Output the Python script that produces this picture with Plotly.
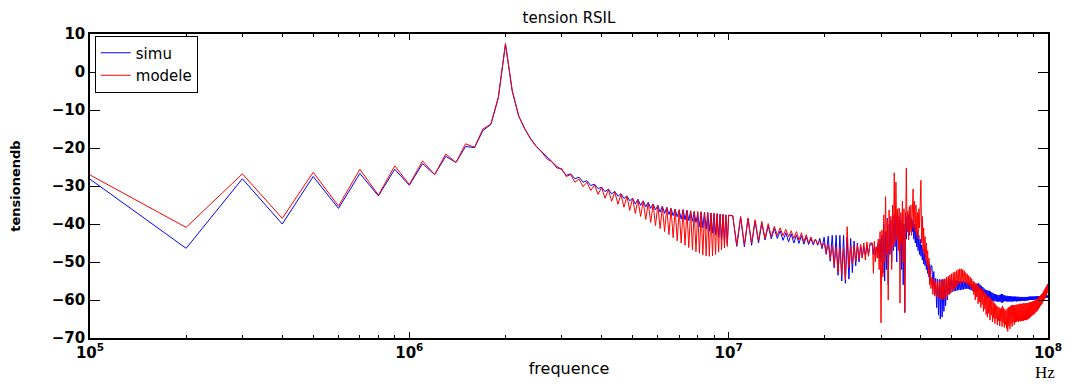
import numpy as np
import plotly.graph_objects as go

# frequency grid (Hz): 100 kHz steps to 10 MHz, 300 kHz steps to 28 MHz,
# 200 kHz steps through the 28-43 MHz resonance zone, 300 kHz steps to 100 MHz
freq_hz = np.concatenate([
    np.arange(1, 101) * 1e5,
    1e7 + np.arange(1, 61) * 3e5,
    2.8e7 + np.arange(1, 76) * 2e5,
    4.3e7 + np.arange(1, 191) * 3e5,
])

# simulated response (dB)
simu_db_0_10 = [
    -28.2, -46.4, -28.1, -40.0, -27.5, -35.9, -26.7, -32.6, -25.6, -29.8,
    -24.1, -27.0, -22.2, -23.8, -19.6, -19.9, -15.4, -13.8, -6.8, 7.3,
    -5.0, -11.6, -15.0, -17.6, -19.6, -21.0, -22.4, -23.6, -24.9, -25.7,
    -27.2, -26.8, -28.1, -27.7, -29.0, -28.6, -29.9, -29.5, -30.7, -30.3,
    -31.5, -30.8, -32.1, -31.4, -32.7, -32.0, -33.3, -32.6, -33.9, -33.2,
    -34.7, -33.5, -35.1, -33.9, -35.5, -34.3, -35.9, -34.7, -36.3, -35.1,
    -36.9, -35.3, -37.2, -35.6, -37.5, -35.9, -37.8, -36.1, -38.1, -36.4,
    -38.7, -36.2, -38.9, -36.4, -39.1, -36.6, -39.3, -36.8, -39.6, -37.2,
    -40.7, -36.8, -41.0, -36.9, -41.4, -37.0, -41.9, -37.1, -42.4, -37.2,
    -42.9, -37.3, -43.5, -37.4, -44.1, -37.5, -44.7, -37.6, -45.2, -37.7,
]
simu_db_10_28 = [
    -37.9, -45.9, -38.2, -46.0, -38.6, -45.6, -39.2, -45.0, -39.8, -44.2,
    -40.5, -43.9, -41.2, -43.8, -41.8, -44.3, -42.3, -44.7, -42.6, -45.0,
    -42.9, -45.1, -43.1, -45.3, -43.4, -45.4, -43.8, -45.5, -44.0, -45.6,
    -43.8, -46.5, -43.5, -48.0, -43.2, -49.8, -43.0, -51.5, -43.0, -53.5,
    -43.0, -55.0, -43.0, -55.6, -43.4, -54.5, -43.8, -52.8, -44.5, -51.0,
    -45.0, -50.0, -45.6, -48.8, -46.0, -48.2, -45.6, -48.0, -45.5, -45.0,
]
simu_db_28_43 = [
    -46.0, -48.0, -45.5, -48.5, -46.0, -47.5, -45.0, -49.0, -44.0, -50.0,
    -43.0, -53.0, -40.0, -55.0, -42.0, -52.0, -38.5, -56.0, -40.0, -48.0,
    -39.0, -50.0, -38.0, -47.0, -37.5, -46.0, -38.0, -50.0, -37.5, -44.0,
    -38.0, -48.0, -39.0, -52.0, -38.0, -56.0, -40.0, -63.3, -37.0, -44.0,
    -38.0, -42.0, -37.5, -43.0, -38.0, -41.0, -38.5, -42.0, -39.0, -44.0,
    -40.0, -45.0, -41.0, -46.0, -42.0, -47.0, -43.0, -48.0, -44.0, -48.5,
    -45.5, -49.5, -46.5, -50.5, -47.5, -51.0, -48.5, -52.0, -49.5, -53.0,
    -50.0, -54.0, -50.5, -55.0, -51.0,
]
simu_db_43_100 = [
    -51.0, -56.5, -52.5, -58.5, -54.3, -62.0, -54.5, -64.0, -54.6, -65.0,
    -54.6, -64.5, -54.6, -63.0, -54.5, -61.5, -54.5, -60.0, -54.5, -58.5,
    -54.6, -58.0, -54.7, -57.8, -54.8, -57.7, -54.9, -57.6, -54.9, -57.5,
    -55.0, -57.4, -55.0, -57.4, -55.1, -57.3, -55.1, -57.2, -55.2, -57.1,
    -55.3, -57.0, -55.4, -57.1, -55.5, -57.2, -55.6, -57.4, -55.7, -57.6,
    -55.8, -57.8, -55.9, -57.9, -55.8, -57.7, -55.7, -57.5, -55.6, -57.4,
    -56.0, -57.8, -56.3, -58.3, -56.6, -58.8, -57.0, -59.4, -57.3, -60.0,
    -57.4, -59.6, -57.5, -59.5, -57.6, -59.8, -57.8, -60.0, -58.0, -60.2,
    -58.2, -60.3, -58.4, -60.3, -58.5, -60.4, -58.6, -60.4, -58.7, -60.4,
    -58.7, -60.4, -58.6, -60.5, -58.4, -60.8, -58.5, -60.5, -58.7, -60.3,
    -58.8, -60.3, -58.9, -60.4, -58.9, -60.4, -59.0, -60.4, -59.0, -60.4,
    -59.0, -60.4, -59.1, -60.4, -59.1, -60.4, -59.1, -60.3, -59.1, -60.3,
    -59.1, -60.4, -59.2, -60.3, -59.1, -60.3, -59.2, -60.3, -59.2, -60.2,
    -59.2, -60.2, -59.2, -60.2, -59.2, -60.2, -59.2, -60.2, -59.2, -60.2,
    -59.2, -60.1, -59.2, -60.1, -59.2, -60.1, -59.1, -60.0, -59.1, -60.0,
    -59.1, -60.0, -59.1, -60.0, -59.1, -60.0, -59.1, -59.9, -59.1, -59.9,
    -59.1, -59.9, -59.0, -59.9, -59.0, -59.8, -59.0, -59.8, -59.0, -59.8,
    -59.0, -59.8, -58.9, -59.7, -58.9, -59.7, -58.9, -59.6, -58.9, -59.6,
    -58.8, -59.5, -58.8, -59.5, -58.8, -59.4, -58.8, -59.4, -58.8, -59.3,
]

# model response (dB)
modele_db_0_10 = [
    -27.1, -40.9, -26.8, -38.5, -26.4, -35.3, -25.6, -32.4, -24.7, -29.6,
    -23.4, -27.0, -21.6, -23.8, -18.9, -19.8, -15.0, -13.7, -6.6, 7.5,
    -4.9, -11.5, -15.0, -17.7, -19.7, -21.1, -22.9, -23.7, -25.3, -25.4,
    -27.5, -27.0, -29.0, -28.2, -30.2, -29.0, -31.2, -29.7, -32.2, -30.4,
    -33.2, -31.0, -34.0, -31.6, -34.8, -32.2, -35.6, -32.7, -36.4, -33.2,
    -37.2, -33.6, -38.0, -34.0, -38.8, -34.4, -39.6, -34.8, -40.4, -35.1,
    -41.2, -35.4, -42.0, -35.7, -42.8, -35.9, -43.6, -36.1, -44.4, -36.2,
    -45.0, -36.3, -45.6, -36.4, -46.2, -36.5, -46.8, -36.6, -47.3, -36.7,
    -47.7, -36.8, -48.1, -36.9, -48.4, -37.0, -48.5, -37.1, -48.4, -37.2,
    -48.0, -37.3, -47.4, -37.4, -46.8, -37.5, -46.3, -37.6, -45.9, -37.7,
]
modele_db_10_28 = [
    -37.8, -45.6, -38.0, -45.4, -38.4, -45.0, -38.9, -44.4, -39.3, -43.8,
    -39.9, -43.4, -40.6, -43.0, -41.0, -43.1, -41.4, -43.4, -41.8, -43.8,
    -42.0, -44.2, -42.3, -44.7, -42.8, -45.0, -43.4, -45.1, -44.0, -45.3,
    -44.4, -46.0, -45.0, -47.6, -45.4, -49.3, -45.8, -51.0, -46.1, -52.5,
    -46.4, -53.4, -46.4, -54.7, -40.7, -51.5, -45.9, -50.5, -45.6, -49.8,
    -45.5, -49.3, -45.4, -49.0, -45.0, -49.5, -44.7, -48.5, -45.0, -45.0,
]
modele_db_28_43 = [
    -45.0, -53.0, -44.5, -50.0, -46.0, -49.0, -44.0, -52.0, -42.0, -66.0,
    -41.6, -53.9, -37.6, -50.0, -32.8, -48.0, -39.0, -60.0, -36.3, -47.0,
    -38.0, -52.0, -35.0, -46.0, -26.5, -45.0, -29.0, -44.0, -36.0, -47.0,
    -35.8, -60.8, -37.0, -45.0, -34.0, -50.0, -36.0, -63.3, -30.0, -25.3,
    -42.0, -36.5, -44.2, -35.4, -42.0, -35.0, -43.0, -31.0, -30.8, -41.0,
    -34.0, -42.0, -35.0, -43.0, -37.0, -44.0, -36.0, -41.0, -33.0, -28.5,
    -45.0, -38.0, -47.0, -41.0, -48.0, -43.3, -49.5, -45.0, -51.0, -47.0,
    -53.0, -49.0, -56.0, -52.0, -57.0,
]
modele_db_43_100 = [
    -54.0, -58.5, -54.5, -59.0, -55.0, -59.2, -55.2, -59.5, -55.0, -59.6,
    -54.8, -60.0, -54.6, -59.8, -54.4, -59.6, -54.0, -59.2, -53.7, -58.6,
    -53.4, -58.2, -53.1, -57.7, -52.8, -57.2, -52.6, -56.7, -52.3, -56.2,
    -52.0, -55.8, -51.8, -55.6, -51.8, -55.4, -52.0, -55.4, -52.3, -55.4,
    -52.8, -55.8, -53.2, -56.0, -53.6, -56.3, -54.0, -56.8, -54.4, -57.5,
    -55.0, -58.6, -55.3, -60.0, -55.6, -59.2, -56.0, -61.0, -56.3, -60.5,
    -56.8, -62.0, -57.0, -61.2, -57.4, -63.0, -57.8, -62.4, -58.2, -63.8,
    -58.6, -64.5, -59.0, -63.5, -59.3, -65.3, -59.6, -64.0, -60.0, -65.8,
    -60.3, -64.8, -60.8, -66.2, -61.2, -65.0, -61.5, -66.6, -61.8, -65.5,
    -62.0, -66.8, -62.3, -65.6, -62.0, -67.0, -61.6, -66.0, -62.2, -67.2,
    -62.5, -66.5, -62.8, -67.5, -62.3, -68.3, -62.0, -66.8, -61.8, -67.6,
    -61.6, -66.2, -61.4, -67.0, -61.3, -65.8, -61.4, -66.5, -61.3, -65.9,
    -61.3, -65.7, -61.2, -65.6, -61.2, -65.8, -61.1, -65.5, -61.0, -65.6,
    -61.0, -65.5, -61.0, -65.4, -60.9, -65.5, -60.9, -65.3, -60.9, -65.3,
    -60.9, -65.3, -60.8, -65.1, -60.8, -65.0, -60.7, -64.8, -60.6, -64.5,
    -60.5, -64.3, -60.5, -64.1, -60.4, -63.9, -60.3, -63.7, -60.2, -63.5,
    -60.0, -63.2, -59.9, -63.0, -59.7, -62.8, -59.5, -62.4, -59.2, -62.0,
    -59.0, -61.6, -58.8, -61.3, -58.5, -61.0, -58.2, -60.6, -57.8, -60.2,
    -57.4, -59.8, -57.0, -59.4, -56.6, -58.8, -56.2, -58.2, -55.8, -57.0,
]

x_tick_vals = [1e5, 1e6, 1e7, 1e8]
x_tick_text = ['10<sup>5</sup>', '10<sup>6</sup>', '10<sup>7</sup>', '10<sup>8</sup>']
y_tick_vals = [-70, -60, -50, -40, -30, -20, -10, 0, 10]

simu_db = simu_db_0_10 + simu_db_10_28 + simu_db_28_43 + simu_db_43_100
modele_db = modele_db_0_10 + modele_db_10_28 + modele_db_28_43 + modele_db_43_100

# minor log ticks 2..9 in each decade
x_minor_vals = [m * 10 ** e for e in (5, 6, 7) for m in range(2, 10)]

font_main = 'DejaVu Sans'

fig = go.Figure()
fig.add_trace(go.Scatter(
    x=freq_hz, y=simu_db, mode='lines', name='simu',
    line=dict(color='#0000ff', width=1),
))
fig.add_trace(go.Scatter(
    x=freq_hz, y=modele_db, mode='lines', name='modele',
    line=dict(color='#ff0000', width=1),
))

axis_common = dict(
    showline=True, linecolor='black', linewidth=1.5, mirror='ticks',
    ticks='inside', tickcolor='black', showgrid=False, zeroline=False,
    automargin=False,
    tickfont=dict(family=font_main, size=15, color='black', weight='bold'),
)

fig.update_xaxes(
    type='log', range=[5, 8],
    tickvals=x_tick_vals, ticktext=x_tick_text, ticklen=6,
    minor=dict(tickmode='array', tickvals=x_minor_vals, ticks='inside',
               ticklen=3, tickcolor='black', showgrid=False),
    title=dict(text='frequence', standoff=2,
               font=dict(family=font_main, size=16, color='black')),
    **axis_common,
)
fig.update_yaxes(
    range=[-70, 10], tickvals=y_tick_vals, ticklen=10,
    title=dict(text='tensionendb', standoff=36,
               font=dict(family=font_main, size=13, color='black', weight='bold')),
    **axis_common,
)

fig.update_layout(
    width=1060, height=376,
    margin=dict(l=82, r=20, t=26, b=46),
    paper_bgcolor='white', plot_bgcolor='white',
    title=dict(text='tension RSIL', x=0.5, xref='paper', xanchor='center',
               y=0.975, yref='container', yanchor='middle',
               font=dict(family=font_main, size=15, color='black')),
    legend=dict(x=0.005, y=0.995, xanchor='left', yanchor='top',
                bgcolor='white', bordercolor='black', borderwidth=1,
                font=dict(family=font_main, size=15, color='black'),
                tracegroupgap=0, itemwidth=30),
    showlegend=True,
    annotations=[dict(
        text='Hz', xref='paper', yref='paper', x=0.997, y=-0.115,
        xanchor='center', yanchor='middle', showarrow=False,
        font=dict(family='Liberation Serif', size=17, color='black'),
    )],
)

fig.write_html('out.html')
